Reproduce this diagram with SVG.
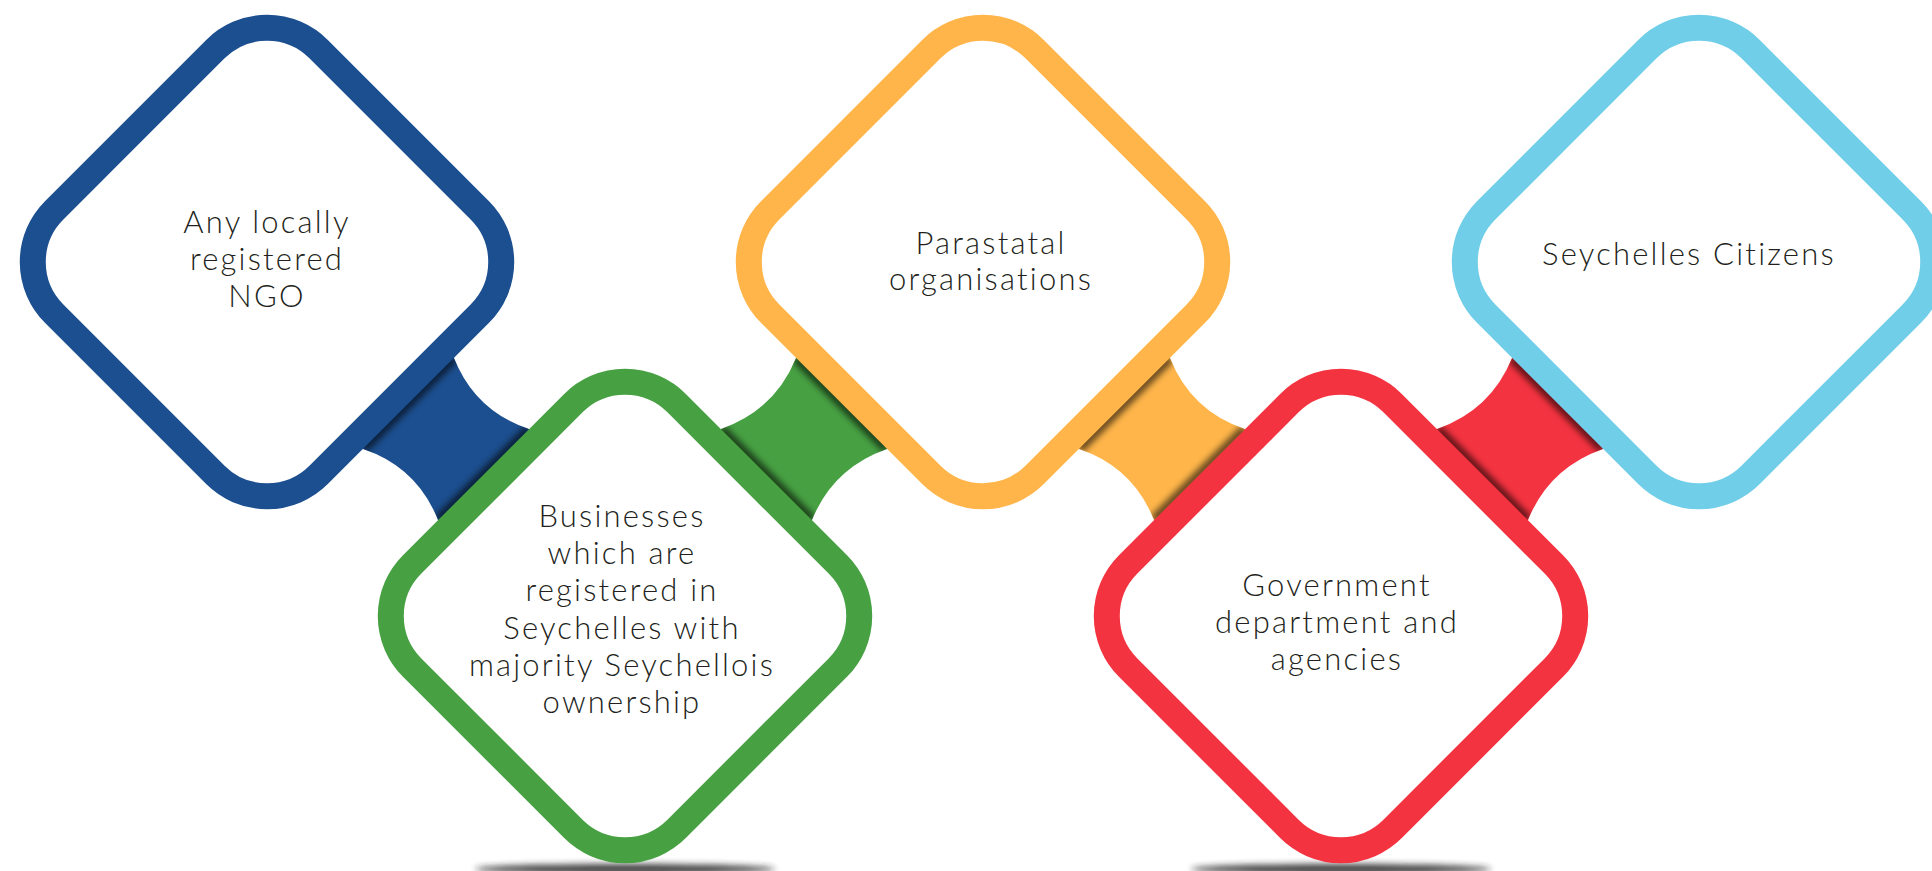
<svg xmlns="http://www.w3.org/2000/svg" xmlns:xlink="http://www.w3.org/1999/xlink" width="1932" height="871" viewBox="0 0 1932 871">
<style>
.dia{fill:#fff;stroke-width:26}
.lbl{font-family:Lato,"Open Sans","Liberation Sans",sans-serif;font-weight:300;font-size:31px;letter-spacing:2.2px;fill:#231f20;text-anchor:middle}
.sh{fill:none;stroke:#000;stroke-width:10;stroke-opacity:.6;filter:url(#blur)}
</style>
<defs>
<filter id="blur" x="-20%" y="-20%" width="140%" height="140%"><feGaussianBlur stdDeviation="3"/></filter>
<filter id="gblur" x="-20%" y="-200%" width="140%" height="500%"><feGaussianBlur stdDeviation="3"/></filter>
<rect id="rd" x="-187" y="-187" width="374" height="374" rx="73" transform="rotate(45)"/>
<path id="c1" d="M454,358 L444,348 L353,439 L363,449 Q417,467 438,520 L448,530 L539,439 L529,429 Q475,411 454,358 Z"/>
<path id="c2" d="M721,429 Q775,410 796,358 L806,348 L897,439 L887,449 Q833,468 812,520 L802,530 L711,439 Z"/>
<path id="c3" d="M1170,358 L1160,348 L1069,439 L1079,449 Q1133,467 1154,520 L1164,530 L1255,439 L1245,429 Q1191,411 1170,358 Z"/>
<path id="c4" d="M1437,429 Q1491,410 1512,358 L1522,348 L1613,439 L1603,449 Q1549,468 1528,520 L1518,530 L1427,439 Z"/>
<clipPath id="k1"><use xlink:href="#c1"/></clipPath>
<clipPath id="k2"><use xlink:href="#c2"/></clipPath>
<clipPath id="k3"><use xlink:href="#c3"/></clipPath>
<clipPath id="k4"><use xlink:href="#c4"/></clipPath>
</defs>
<rect width="1932" height="871" fill="#fff"/>
<g id="ground-shadows">
<ellipse cx="625" cy="869" rx="150" ry="5" fill="#222" opacity="0.85" filter="url(#gblur)"/>
<ellipse cx="1341" cy="869" rx="150" ry="5" fill="#222" opacity="0.85" filter="url(#gblur)"/>
</g>
<g id="connectors">
<use xlink:href="#c1" fill="#1c4f8f"/>
<g clip-path="url(#k1)"><path class="sh" d="M454,358 L363,449 M438,520 L529,429"/></g>
<use xlink:href="#c2" fill="#47a143"/>
<g clip-path="url(#k2)"><path class="sh" d="M721,429 L812,520 M796,358 L887,449"/></g>
<use xlink:href="#c3" fill="#ffb54a"/>
<g clip-path="url(#k3)"><path class="sh" d="M1170,358 L1079,449 M1154,520 L1245,429"/></g>
<use xlink:href="#c4" fill="#f43340"/>
<g clip-path="url(#k4)"><path class="sh" d="M1437,429 L1528,520 M1512,358 L1603,449"/></g>
</g>
<g id="node-ngo">
<use xlink:href="#rd" class="dia" stroke="#1c4f8f" transform="translate(267,262)"/>
<text class="lbl" x="267" y="233">Any locally</text>
<text class="lbl" x="267" y="270">registered</text>
<text class="lbl" x="267" y="307">NGO</text>
</g>
<g id="node-business">
<use xlink:href="#rd" class="dia" stroke="#47a143" transform="translate(625,616)"/>
<text class="lbl" x="622" y="527">Businesses</text>
<text class="lbl" x="622" y="564">which are</text>
<text class="lbl" x="622" y="601">registered in</text>
<text class="lbl" x="622" y="639">Seychelles with</text>
<text class="lbl" x="622" y="676">majority Seychellois</text>
<text class="lbl" x="622" y="713">ownership</text>
</g>
<g id="node-parastatal">
<use xlink:href="#rd" class="dia" stroke="#ffb54a" transform="translate(983,262)"/>
<text class="lbl" x="991" y="254">Parastatal</text>
<text class="lbl" x="991" y="290">organisations</text>
</g>
<g id="node-government">
<use xlink:href="#rd" class="dia" stroke="#f43340" transform="translate(1341,616)"/>
<text class="lbl" x="1337" y="596">Government</text>
<text class="lbl" x="1337" y="633">department and</text>
<text class="lbl" x="1337" y="670">agencies</text>
</g>
<g id="node-citizens">
<use xlink:href="#rd" class="dia" stroke="#71cee9" transform="translate(1699,262)"/>
<text class="lbl" x="1689" y="265">Seychelles Citizens</text>
</g>
</svg>
